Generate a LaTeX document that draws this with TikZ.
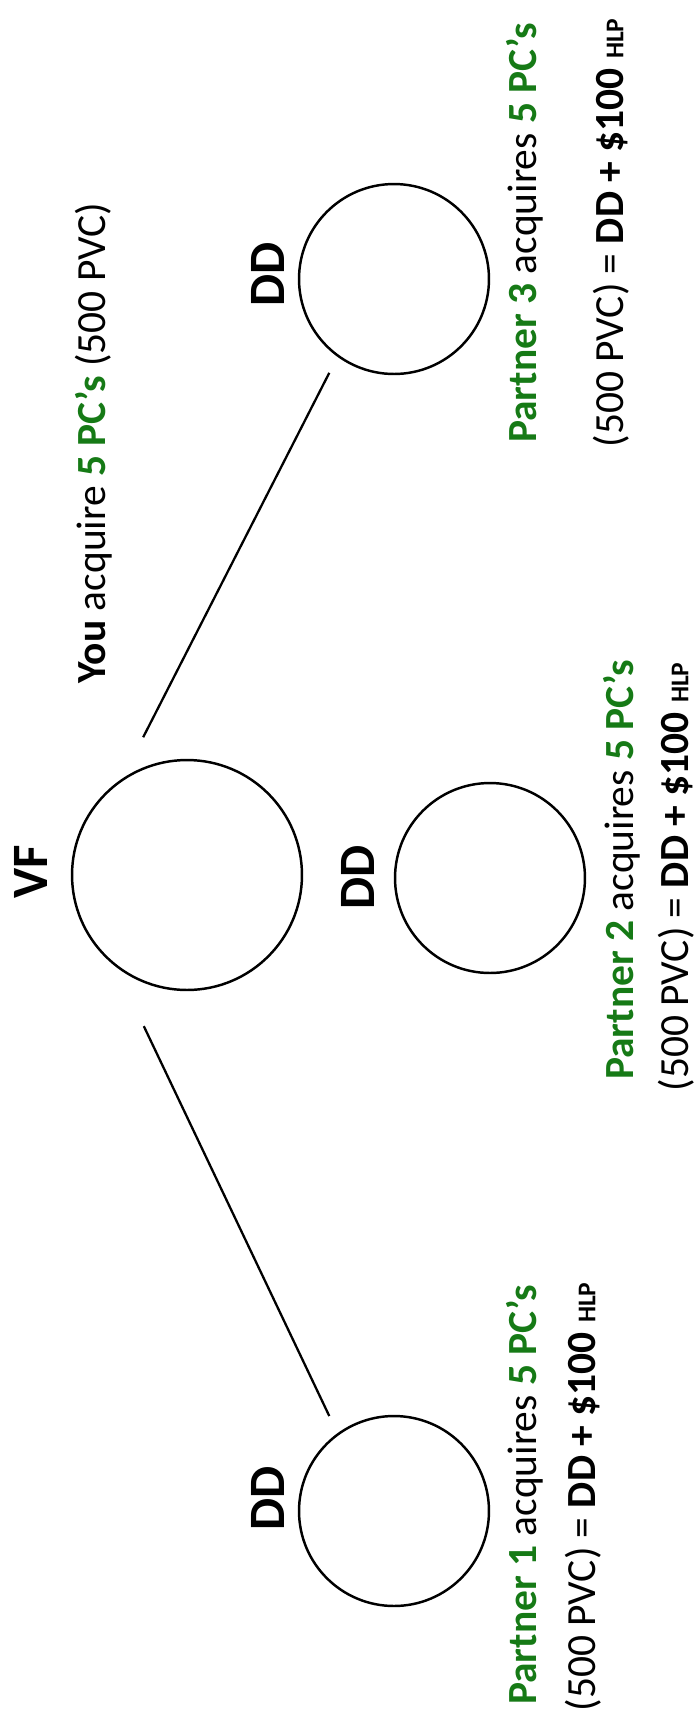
\documentclass[tikz,border=0pt]{standalone}
\usepackage{fontspec}
\setmainfont{Carlito}
\definecolor{pcgreen}{RGB}{22,122,22}
\newcommand{\hlpmark}{{\fontsize{14.5}{17}\selectfont\bfseries HLP}}
\newcommand{\partnerline}[1]{\textcolor{pcgreen}{\bfseries Partner #1} acquires \textcolor{pcgreen}{\bfseries 5 PC’s}}
\newcommand{\pvcline}{(500 PVC) = \textbf{DD + \$100} \hlpmark}

\begin{document}
\begin{tikzpicture}[x=0.02cm,y=-0.02cm,
  bub/.style={circle,draw,line width=1.4pt,inner sep=0pt},
  vfcircle/.style={bub,minimum size=4.6cm},
  ddcircle/.style={bub,minimum size=3.8cm},
  tag/.style={rotate=90,font=\fontsize{29}{34}\selectfont\bfseries},
  txt/.style={rotate=90,font=\fontsize{23.6}{28}\selectfont},
  link/.style={line width=1.3pt}]
  \useasboundingbox (0,0) rectangle (700,1729);
  % circles
  \node[vfcircle] (vf) at (187,875) {};
  \node[ddcircle] (dd3) at (394,279) {};
  \node[ddcircle] (dd2) at (490,878) {};
  \node[ddcircle] (dd1) at (394,1511) {};
  % labels
  \node[tag] (vflabel) at (31,872) {VF};
  \node[tag] (dd3label) at (268,274) {DD};
  \node[tag] (dd2label) at (358,877) {DD};
  \node[tag] (dd1label) at (268,1498) {DD};
  % texts
  \node[txt] (you) at (94,443) {\textbf{You} acquire \textcolor{pcgreen}{\bfseries 5 PC’s} (500 PVC)};
  \node[txt] (p3a) at (525,233) {\partnerline{3}};
  \node[txt] (p3b) at (611,233) {\pvcline};
  \node[txt] (p2a) at (622,870) {\partnerline{2}};
  \node[txt] (p2b) at (676,877) {\pvcline};
  \node[txt] (p1a) at (525,1495) {\partnerline{1}};
  \node[txt] (p1b) at (583,1497) {\pvcline};
  % links
  \draw[link,shorten <=0.93cm,shorten >=0.36cm] (vf.124) -- (dd3.234);
  \draw[link,shorten <=1.32cm,shorten >=0.38cm] (vf.232) -- (dd1.126);
\end{tikzpicture}
\end{document}
